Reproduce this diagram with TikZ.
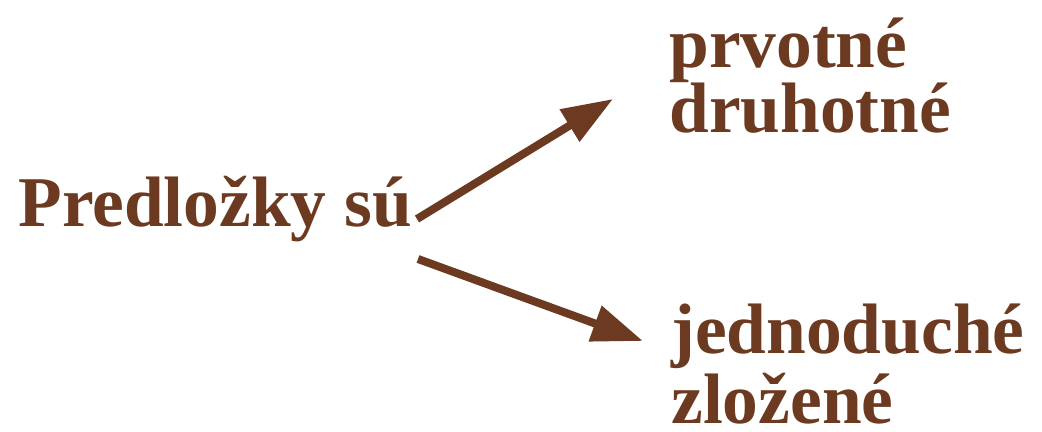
\documentclass[tikz,border=0pt]{standalone}
\usepackage{fontspec}
\setmainfont{Liberation Serif}
\usetikzlibrary{arrows.meta}
\definecolor{predbrown}{RGB}{107,58,32}

\begin{document}
\begin{tikzpicture}[
    x=0.5pt, y=0.5pt,
    >={Triangle[length=25.5pt,width=18pt]}, % 矢印のスタイル
    word/.style={anchor=base west, inner sep=0pt, text=predbrown,
        text depth=0pt, font=\fontsize{35.7}{40}\selectfont\bfseries},
    branch/.style={->, line width=4pt, draw=predbrown},
    ]
    \useasboundingbox (0,0) rectangle (1042,432);

    % --- 左の語 ---
    \node[word] (predlozky) at (18,205) {Predložky sú};

    % --- 右の語 ---
    % 上のグループ
    \node[word] (prvotne) at (669,364) {prvotné};
    \node[word] (druhotne) at (669,299) {druhotné};
    % 下のグループ
    \node[word] (jednoduche) at (671,78) {jednoduché};
    \node[word] (zlozene) at (671,8) {zložené};

    % --- 矢印 ---
    % 始点と先端
    \coordinate (upstart) at (417,213);
    \coordinate (uptip) at (613,333);
    \coordinate (downstart) at (418,173);
    \coordinate (downtip) at (643,91);
    \draw[branch] (upstart) -- (uptip);
    \draw[branch] (downstart) -- (downtip);

\end{tikzpicture}
\end{document}
